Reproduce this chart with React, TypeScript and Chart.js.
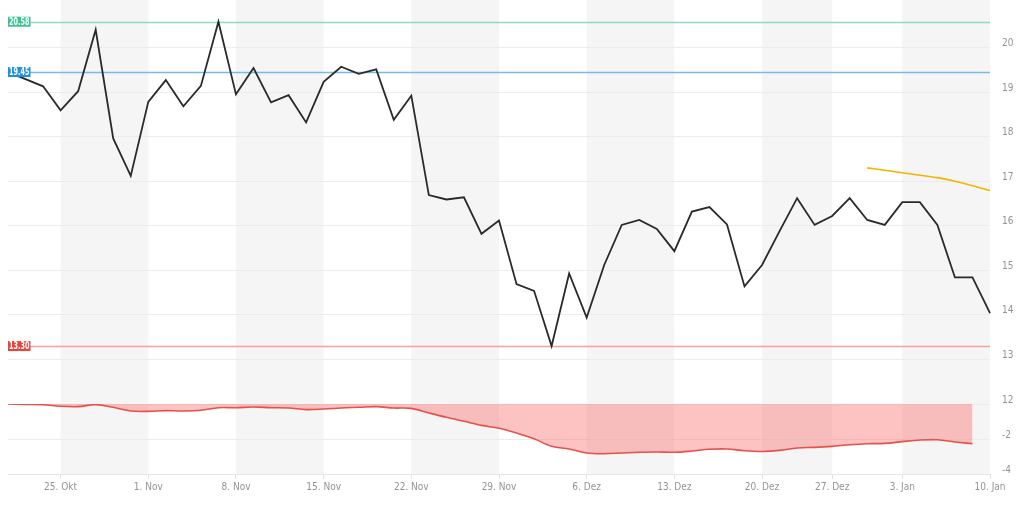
import React, { useEffect, useRef } from 'react';
import { Chart, registerables } from 'chart.js';

Chart.register(...registerables);

// trading days (Xetra calendar)
const categories = [
  '2021-10-20', '2021-10-21', '2021-10-22',
  '2021-10-25', '2021-10-26', '2021-10-27', '2021-10-28', '2021-10-29',
  '2021-11-01', '2021-11-02', '2021-11-03', '2021-11-04', '2021-11-05',
  '2021-11-08', '2021-11-09', '2021-11-10', '2021-11-11', '2021-11-12',
  '2021-11-15', '2021-11-16', '2021-11-17', '2021-11-18', '2021-11-19',
  '2021-11-22', '2021-11-23', '2021-11-24', '2021-11-25', '2021-11-26',
  '2021-11-29', '2021-11-30', '2021-12-01', '2021-12-02', '2021-12-03',
  '2021-12-06', '2021-12-07', '2021-12-08', '2021-12-09', '2021-12-10',
  '2021-12-13', '2021-12-14', '2021-12-15', '2021-12-16', '2021-12-17',
  '2021-12-20', '2021-12-21', '2021-12-22', '2021-12-23',
  '2021-12-27', '2021-12-28', '2021-12-29', '2021-12-30',
  '2022-01-03', '2022-01-04', '2022-01-05', '2022-01-06', '2022-01-07',
  '2022-01-10',
];

const priceValues = [
  19.45, 19.29, 19.13, 18.59, 19.02, 20.40, 17.96, 17.12,
  18.78, 19.27, 18.68, 19.14, 20.58,
  18.95, 19.54, 18.77, 18.93, 18.32,
  19.23, 19.57, 19.41, 19.51, 18.38,
  18.92, 16.69, 16.59, 16.64, 15.82,
  16.12, 14.69, 14.54, 13.30, 14.93,
  13.94, 15.12, 16.02, 16.13, 15.93,
  15.43, 16.32, 16.42, 16.03, 14.64,
  15.12, 15.88, 16.62, 16.02,
  16.22, 16.62, 16.13, 16.02,
  16.53, 16.53, 16.02, 14.84, 14.84,
  14.04,
];

const forecastValues = [
  null, null, null, null, null, null, null, null,
  null, null, null, null, null,
  null, null, null, null, null,
  null, null, null, null, null,
  null, null, null, null, null,
  null, null, null, null, null,
  null, null, null, null, null,
  null, null, null, null, null,
  null, null, null, null,
  null, null, 17.30, 17.245,
  17.19, 17.135, 17.08, 17.0, 16.9,
  16.79,
];

const drawdownValues = [
  0, -0.02, -0.04, -0.13, -0.15, -0.04, -0.19, -0.40,
  -0.42, -0.38, -0.40, -0.36, -0.21,
  -0.21, -0.17, -0.21, -0.23, -0.32,
  -0.29, -0.23, -0.19, -0.15, -0.23,
  -0.25, -0.51, -0.76, -0.99, -1.22,
  -1.39, -1.66, -1.98, -2.42, -2.57,
  -2.80, -2.84, -2.80, -2.76, -2.74,
  -2.76, -2.69, -2.59, -2.57, -2.67,
  -2.71, -2.65, -2.51, -2.48,
  -2.42, -2.33, -2.27, -2.25,
  -2.15, -2.06, -2.04, -2.17, -2.27,
  null,
];

const tickDates = [
  '2021-10-25', '2021-11-01', '2021-11-08', '2021-11-15', '2021-11-22', '2021-11-29',
  '2021-12-06', '2021-12-13', '2021-12-20', '2021-12-27', '2022-01-03', '2022-01-10',
];
const tickLabels = [
  '25. Okt', '1. Nov', '8. Nov', '15. Nov', '22. Nov', '29. Nov',
  '6. Dez', '13. Dez', '20. Dez', '27. Dez', '3. Jan', '10. Jan',
];

const bandStarts = ['2021-10-25', '2021-11-08', '2021-11-22', '2021-12-06', '2021-12-20', '2022-01-03'];
const bandEnds = ['2021-11-01', '2021-11-15', '2021-11-29', '2021-12-13', '2021-12-27', '2022-01-10'];

const refLevels = [20.58, 19.45, 13.30];
const refLabels = ['20.58', '19.45', '13.30'];
const refBoxColors = ['#3cc290', '#1f8fe0', '#e4463f'];
const refLineColors = ['#8ddcbc', '#78bbe6', '#f2a29e'];

const FONT = "'Liberation Sans Narrow', 'DejaVu Sans Condensed', 'Roboto', sans-serif";

const tickIndexSet = tickDates.map((d) => categories.indexOf(d));

const bandsPlugin = {
  id: 'bands',
  beforeDraw(chart: any) {
    const { ctx, chartArea, scales } = chart;
    const x = scales.x;
    ctx.save();
    ctx.fillStyle = '#f5f5f5';
    bandStarts.forEach((s, i) => {
      const x0 = x.getPixelForValue(categories.indexOf(s));
      const x1 = x.getPixelForValue(categories.indexOf(bandEnds[i]));
      ctx.fillRect(x0, 0, x1 - x0, chartArea.bottom);
    });
    ctx.restore();
  },
};

const refPlugin = {
  id: 'refs',
  beforeDatasetsDraw(chart: any) {
    const { ctx, chartArea, scales } = chart;
    const y = scales.y;
    ctx.save();
    ctx.lineWidth = 1.5;
    refLevels.forEach((lv, i) => {
      const py = Math.round(y.getPixelForValue(lv)) + 0.5;
      ctx.strokeStyle = refLineColors[i];
      ctx.beginPath();
      ctx.moveTo(chartArea.left, py);
      ctx.lineTo(chartArea.right, py);
      ctx.stroke();
    });
    ctx.restore();
  },
  afterDatasetsDraw(chart: any) {
    const { ctx, chartArea, scales } = chart;
    const y = scales.y;
    const sx = 0.72;
    ctx.save();
    ctx.font = `bold 10px ${FONT}`;
    ctx.textBaseline = 'middle';
    ctx.textAlign = 'left';
    refLevels.forEach((lv, i) => {
      const py = y.getPixelForValue(lv);
      const w = ctx.measureText(refLabels[i]).width * sx + 2;
      ctx.fillStyle = refBoxColors[i];
      ctx.fillRect(chartArea.left, py - 5, w, 10);
      ctx.fillStyle = '#ffffff';
      ctx.save();
      ctx.translate(chartArea.left + 1, py + 0.5);
      ctx.scale(sx, 1);
      ctx.fillText(refLabels[i], 0, 0);
      ctx.restore();
    });
    ctx.restore();
  },
};

const fitY = (scale: any) => {
  scale.width = 34;
  scale.paddingTop = 0;
  scale.paddingBottom = 0;
};

export default function App() {
  const canvasRef = useRef<HTMLCanvasElement | null>(null);

  useEffect(() => {
    if (!canvasRef.current) return;
    const chart = new Chart(canvasRef.current, {
      type: 'line',
      data: {
        labels: categories,
        datasets: [
          {
            label: 'Kurs',
            data: priceValues,
            yAxisID: 'y',
            borderColor: '#2a2a2a',
            borderWidth: 1.8,
            pointRadius: 0,
            tension: 0,
            fill: false,
          },
          {
            label: 'Prognose',
            data: forecastValues,
            yAxisID: 'y',
            borderColor: '#f4b400',
            borderWidth: 1.6,
            pointRadius: 0,
            tension: 0.3,
            fill: false,
          },
          {
            label: 'Drawdown',
            data: drawdownValues,
            yAxisID: 'y2',
            borderColor: '#e8504a',
            backgroundColor: 'rgba(250,110,110,0.42)',
            borderWidth: 1.6,
            pointRadius: 0,
            tension: 0.35,
            fill: { value: 0 },
          },
        ],
      },
      options: {
        animation: false,
        responsive: true,
        maintainAspectRatio: false,
        layout: { padding: { left: 8, top: 3, right: 0, bottom: 0 } },
        plugins: {
          legend: { display: false },
          tooltip: { enabled: false },
        },
        scales: {
          x: {
            type: 'category',
            offset: false,
            grid: {
              display: true,
              drawOnChartArea: false,
              drawTicks: true,
              tickLength: 5,
              color: '#e2e2e2',
            },
            border: { display: true, color: '#e6e6e6' },
            ticks: {
              autoSkip: false,
              maxRotation: 0,
              padding: 2,
              color: '#939393',
              font: { size: 10, family: FONT },
              callback: (v: any) => {
                const k = tickIndexSet.indexOf(Number(v));
                return k >= 0 ? tickLabels[k] : '';
              },
            },
            afterBuildTicks: (scale: any) => {
              scale.ticks = scale.ticks.filter((t: any) => tickIndexSet.includes(t.value));
            },
            afterFit: (scale: any) => {
              scale.height = 31;
            },
          },
          y: {
            type: 'linear',
            position: 'right',
            stack: 'v',
            stackWeight: 401,
            min: 12,
            max: 21,
            ticks: {
              stepSize: 1,
              padding: 12,
              labelOffset: -4,
              color: '#939393',
              font: { size: 10, family: FONT },
              callback: (v: any) => (v === 21 ? null : String(v)),
            },
            grid: { color: '#ececec', drawTicks: false },
            border: { display: false },
            afterFit: fitY,
          },
          y2: {
            type: 'linear',
            position: 'right',
            stack: 'v',
            stackWeight: 70,
            min: -4,
            max: 0,
            ticks: {
              stepSize: 2,
              padding: 12,
              labelOffset: -4,
              color: '#939393',
              font: { size: 10, family: FONT },
              callback: (v: any) => (v === 0 ? null : String(v)),
            },
            grid: { color: '#ececec', drawTicks: false },
            border: { display: false },
            afterFit: fitY,
          },
        },
      } as any,
      plugins: [bandsPlugin, refPlugin],
    });
    return () => chart.destroy();
  }, []);

  return (
    <div style={{ position: 'fixed', left: 0, top: 0, width: 1024, height: 505, background: '#ffffff' }}>
      <canvas ref={canvasRef} />
    </div>
  );
}
